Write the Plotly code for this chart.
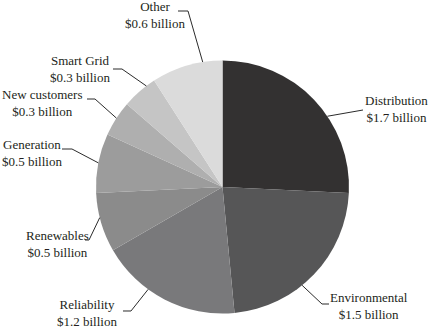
import math
import plotly.graph_objects as go

# Spending by category, in billions of dollars
categories = ["Distribution", "Environmental", "Reliability", "Renewables",
              "Generation", "New customers", "Smart Grid", "Other"]
values = [1.7, 1.5, 1.2, 0.5, 0.5, 0.3, 0.3, 0.6]
shades = ["#333131", "#565657", "#79797b", "#8b8b8b",
          "#9c9c9c", "#afafaf", "#c5c5c5", "#dbdbdb"]

W, H = 429, 328
CX, CY, R = 222.5, 187.0, 126.5   # pie centre and radius in pixels


def px(x):
    return x / W


def py(y):
    return 1 - y / H


# label placement: text centre, leader angle on the rim (deg, clockwise from 12 o'clock),
# and the bend/end points of the leader line
label_layout = {
    "Distribution":  dict(text=(396, 109), ang=56,  path=[(363, 110)]),
    "Environmental": dict(text=(369, 305.5), ang=141, path=[(322, 304), (329, 304)]),
    "Reliability":   dict(text=(87, 313), ang=216, path=[(131, 311), (123, 311)]),
    "Renewables":    dict(text=(57, 244), ang=256, path=[(89, 240), (85, 240)]),
    "Generation":    dict(text=(32, 153), ang=281, path=[(72, 149), (62, 149)]),
    "New customers": dict(text=(42, 103), ang=303, path=[(95, 99), (87, 99)]),
    "Smart Grid":    dict(text=(80, 69), ang=323, path=[(122, 69), (113, 69)]),
    "Other":         dict(text=(155, 15.5), ang=351, path=[(188, 11), (178, 11)]),
}

fig = go.Figure(go.Pie(
    labels=categories,
    values=values,
    sort=False,
    direction="clockwise",
    rotation=0,
    marker=dict(colors=shades, line=dict(width=0)),
    textinfo="none",
    hoverinfo="label+value",
    showlegend=False,
    domain=dict(x=[px(CX - R), px(CX + R)], y=[py(CY + R), py(CY - R)]),
))

font = dict(family="'Liberation Serif', 'DejaVu Serif', serif", size=13, color="#231f20")
annotations, shapes = [], []
for name, val in zip(categories, values):
    spec = label_layout[name]
    tx, ty = spec["text"]
    annotations.append(dict(
        x=px(tx), y=py(ty), xref="paper", yref="paper",
        text=f"{name}<br>${val:.1f} billion",
        showarrow=False, xanchor="center", yanchor="middle",
        align="center", font=font,
    ))
    a = math.radians(spec["ang"])
    pts = [(CX + R * math.sin(a), CY - R * math.cos(a))] + spec["path"]
    d = "M " + " L ".join(f"{px(x):.5f},{py(y):.5f}" for x, y in pts)
    shapes.append(dict(type="path", path=d, xref="paper", yref="paper",
                       line=dict(color="#2b2b2b", width=1)))

fig.update_layout(
    width=W, height=H,
    margin=dict(l=0, r=0, t=0, b=0),
    paper_bgcolor="white",
    plot_bgcolor="white",
    font=dict(family="'Liberation Serif', 'DejaVu Serif', serif"),
    annotations=annotations,
    shapes=shapes,
)

fig.write_html("out.html")
